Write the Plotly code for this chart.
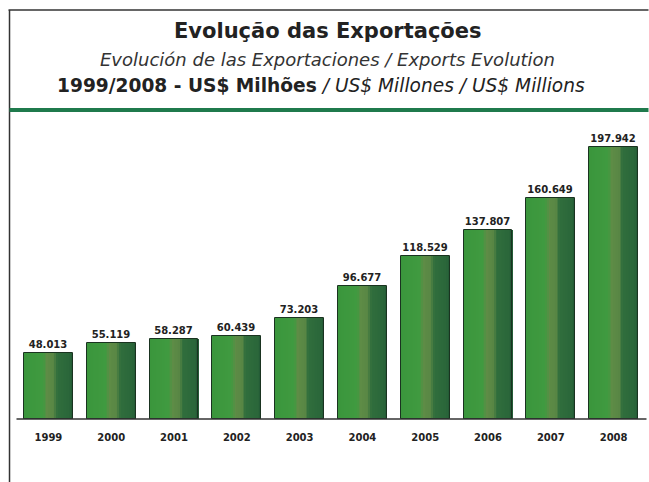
import plotly.graph_objects as go

years = ["1999", "2000", "2001", "2002", "2003", "2004", "2005", "2006", "2007", "2008"]
values = [48.013, 55.119, 58.287, 60.439, 73.203, 96.677, 118.529, 137.807, 160.649, 197.942]
labels = ["48.013", "55.119", "58.287", "60.439", "73.203", "96.677", "118.529", "137.807", "160.649", "197.942"]

W, H = 649, 482
ML, MR, MT, MB = 16.5, 3.5, 120, 63
PW, PH = W - ML - MR, H - MT - MB

def px(x):
    return (x - ML) / PW

def py(y):
    return (H - MB - y) / PH

xs = list(range(len(years)))
BW = 0.78
N = 30
stops = [(0.0, (58, 150, 60)), (0.40, (64, 154, 64)), (0.48, (94, 140, 70)),
         (0.62, (88, 134, 68)), (0.69, (48, 110, 60)), (0.94, (42, 102, 58)),
         (1.0, (34, 88, 52))]

def col(t):
    for (a, ca), (b, cb) in zip(stops, stops[1:]):
        if a <= t <= b:
            f = (t - a) / (b - a) if b > a else 0
            c = [round(ca[i] + (cb[i] - ca[i]) * f) for i in range(3)]
            return "rgb(%d,%d,%d)" % tuple(c)
    return "rgb(34,88,52)"

fig = go.Figure()
sw = BW / N
for i in range(N):
    t = (i + 0.5) / N
    fig.add_trace(go.Bar(
        x=xs, y=values, width=sw * 1.08, offset=-BW / 2 + i * sw,
        marker=dict(color=col(t), line=dict(width=0)),
        showlegend=False, hoverinfo="skip"))

fig.add_trace(go.Bar(
    x=xs, y=values, width=BW, offset=-BW / 2,
    marker=dict(color="rgba(0,0,0,0)", line=dict(color="#1a3320", width=1)),
    text=["<b>%s</b>" % s for s in labels], textposition="outside", cliponaxis=False,
    textfont=dict(family="DejaVu Sans", size=10, color="#222222"),
    showlegend=False, hoverinfo="skip"))

shapes = [
    dict(type="line", xref="paper", yref="paper", x0=px(8), x1=px(649), y0=py(10), y1=py(10),
         line=dict(color="#333333", width=1.5)),
    dict(type="line", xref="paper", yref="paper", x0=px(9), x1=px(9), y0=py(10), y1=py(482),
         line=dict(color="#333333", width=1.5)),
    dict(type="line", xref="paper", yref="paper", x0=px(9), x1=px(649), y0=py(110), y1=py(110),
         line=dict(color="#1f7a4c", width=4)),
    dict(type="line", xref="paper", yref="paper", x0=px(16), x1=px(647), y0=py(419), y1=py(419),
         line=dict(color="#333333", width=1.5)),
]

annotations = [
    dict(xref="paper", yref="paper", x=px(328), y=py(31), showarrow=False,
         text="<b>Evolução das Exportações</b>", xanchor="center", yanchor="middle",
         font=dict(family="DejaVu Sans", size=21, color="#222222")),
    dict(xref="paper", yref="paper", x=px(327), y=py(60), showarrow=False,
         text="<i>Evolución de las Exportaciones / Exports Evolution</i>", xanchor="center", yanchor="middle",
         font=dict(family="DejaVu Sans", size=18, color="#333333")),
    dict(xref="paper", yref="paper", x=px(321), y=py(85), showarrow=False,
         text="<b>1999/2008 - US$ Milhões</b><i> / US$ Millones / US$ Millions</i>", xanchor="center", yanchor="middle",
         font=dict(family="DejaVu Sans", size=18.6, color="#222222")),
]

fig.update_layout(
    width=W, height=H, margin=dict(l=ML, r=MR, t=MT, b=MB, pad=0),
    paper_bgcolor="white", plot_bgcolor="white",
    barmode="overlay", bargap=0,
    shapes=shapes, annotations=annotations,
    xaxis=dict(range=[-0.5, 9.5], tickmode="array", tickvals=xs, ticktext=["<b>%s</b>" % y for y in years],
               showgrid=False, zeroline=False, showline=False, ticks="outside", ticklen=9,
               tickcolor="rgba(0,0,0,0)", tickfont=dict(family="DejaVu Sans", size=10, color="#222222"),
               fixedrange=True),
    yaxis=dict(range=[0, 217.6], visible=False, fixedrange=True),
)

fig.write_html("out.html", config={"displayModeBar": False},
               post_script="document.body.style.margin='0px';document.body.style.overflow='hidden';")
